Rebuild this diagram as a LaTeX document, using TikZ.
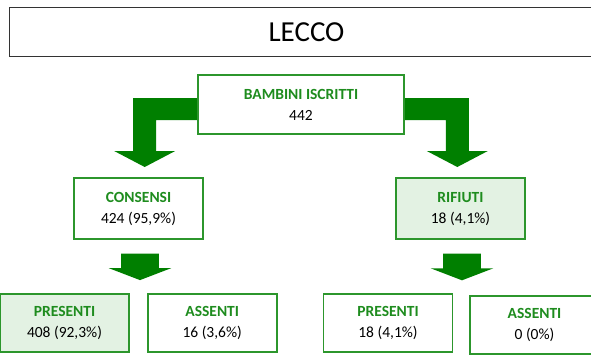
\documentclass[tikz,border=0pt]{standalone}
\usepackage{fontspec}
\setmainfont{Carlito}
\usepackage{tikz}
\usetikzlibrary{calc, backgrounds}
\usepackage{xcolor}
\definecolor{arrowgreen}{HTML}{007F00}
\definecolor{textgreen}{HTML}{1E8C1E}
\definecolor{boxgreen}{HTML}{2C962C}
\definecolor{boxfill}{HTML}{E3F2E3}

\tikzset{
    databox/.style={draw=boxgreen, fill=white, line width=1.6pt, minimum width=129pt, minimum height=60pt, inner sep=2pt, align=center, font=\fontsize{15.5}{21}\selectfont},
    shaded/.style={fill=boxfill},
    blockarrow/.style={fill=arrowgreen}
}
\newcommand{\boxhead}[1]{\textcolor{textgreen}{\textbf{#1}}}

\begin{document}
\begin{tikzpicture}[x=1pt, y=-1pt]
    \clip (0,0) rectangle (591,354);

    % title bar
    \node[draw=black!80, line width=1pt, minimum width=595pt, minimum height=49.4pt, font=\fontsize{29}{34}\selectfont] (title) at (306.5,32) {LECCO};

    % boxes
    \node[databox, minimum width=206pt, minimum height=59pt] (bambini) at (301,104.5) {\boxhead{BAMBINI ISCRITTI}\\442};
    \node[databox, minimum height=61pt] (consensi) at (138.5,208.5) {\boxhead{CONSENSI}\\424 (95,9\%)};
    \node[databox, shaded, minimum height=61pt] (rifiuti) at (460.5,208.7) {\boxhead{RIFIUTI}\\18 (4,1\%)};
    \node[databox, shaded, minimum height=58pt] (presentiA) at (64.5,323) {\boxhead{PRESENTI}\\408 (92,3\%)};
    \node[databox, minimum height=58pt] (assentiA) at (212.2,323) {\boxhead{ASSENTI}\\16 (3,6\%)};
    \node[databox, minimum height=58pt] (presentiB) at (388,323) {\boxhead{PRESENTI}\\18 (4,1\%)};
    \node[databox, minimum height=58pt] (assentiB) at (534.5,324.7) {\boxhead{ASSENTI}\\0 (0\%)};

    % block arrows
    \begin{scope}[on background layer]
        \fill[white] (0,0) rectangle (591,354);
        \fill[blockarrow] ([yshift=6.5pt]bambini.west) -- ++(-64,0) -- ++(0,53) -- ++(-19,0) -- ++(30.5,16) -- ++(30.5,-16) -- ++(-19,0) -- ++(0,-31) -- ++(41,0) -- cycle;
        \fill[blockarrow] ([yshift=6.5pt]bambini.east) -- ++(64,0) -- ++(0,53) -- ++(19,0) -- ++(-30.5,16) -- ++(-30.5,-16) -- ++(19,0) -- ++(0,-31) -- ++(-41,0) -- cycle;
    \end{scope}
    \foreach \src in {consensi, rifiuti}
        \fill[blockarrow] ($(\src.south)+(-17.3,13.7)$) -- ++(37.6,0) -- ++(0,14.6) -- ++(12.5,0) -- ++(-31.3,12) -- ++(-31.3,-12) -- ++(12.5,0) -- cycle;
\end{tikzpicture}
\end{document}
